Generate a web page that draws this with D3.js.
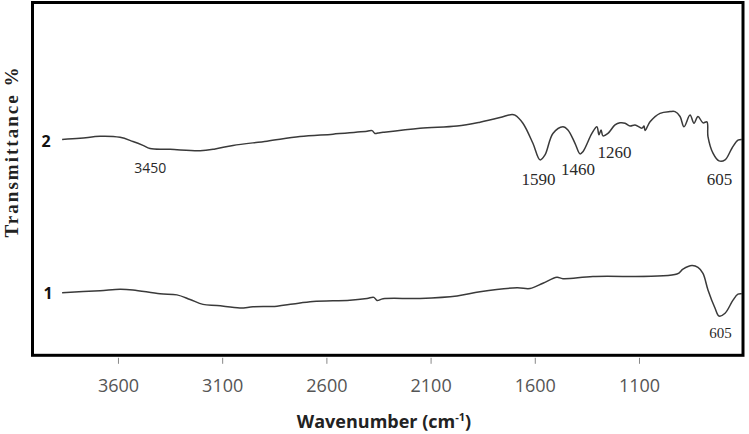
<!DOCTYPE html>
<html>
<head>
<meta charset="utf-8">
<script src="https://cdn.jsdelivr.net/npm/d3@7"></script>
<style>
  html, body { margin: 0; padding: 0; background: #fff; }
  svg { display: block; }
</style>
</head>
<body>
<svg id="chart" width="749" height="434"></svg>
<script>
// ---- data (wavenumber in cm-1, transmittance in arbitrary % units) ----
const xTicks = [3600, 3100, 2600, 2100, 1600, 1100];

const wave2 = [3868, 3782, 3686, 3590, 3528, 3480, 3446, 3350, 3206, 3134, 3048, 2885, 2727, 2568, 2405, 2381, 2367, 2352, 2328, 2151, 1973, 1863, 1767, 1709, 1695, 1657, 1609, 1575, 1551, 1513, 1465, 1441, 1407, 1383, 1369, 1326, 1302, 1292, 1282, 1273, 1249, 1215, 1191, 1167, 1143, 1119, 1086, 1076, 1071, 1047, 999, 951, 927, 903, 884, 855, 836, 817, 793, 774, 769, 745, 716, 687, 654, 625, 606];
const trans2 = [61.3, 61.6, 62.2, 61.9, 60.7, 59.6, 58.7, 58.5, 58.1, 58.6, 59.6, 60.8, 62.1, 62.8, 63.6, 63.8, 63.0, 63.1, 63.3, 64.5, 65.1, 66.2, 67.5, 68.4, 68.2, 65.9, 60.2, 55.5, 56.9, 63.0, 64.9, 64.0, 60.2, 57.2, 57.8, 63.0, 64.9, 62.6, 64.0, 62.3, 63.0, 65.4, 66.0, 65.9, 65.1, 65.4, 64.5, 65.1, 63.8, 66.3, 68.7, 69.2, 69.2, 67.8, 64.9, 68.2, 65.9, 67.8, 66.0, 66.3, 62.1, 57.4, 55.2, 55.5, 58.8, 61.1, 61.3];

const wave1 = [3868, 3686, 3590, 3528, 3398, 3317, 3254, 3192, 3125, 3015, 2952, 2837, 2760, 2664, 2487, 2405, 2372, 2357, 2328, 2151, 1973, 1863, 1685, 1623, 1561, 1494, 1465, 1321, 918, 889, 846, 817, 793, 769, 735, 716, 687, 649, 625, 606];
const trans1 = [17.8, 18.4, 18.8, 18.6, 17.5, 17.2, 15.9, 14.5, 14.2, 13.5, 13.8, 14.0, 14.6, 15.3, 15.7, 16.2, 16.5, 15.6, 16.1, 16.2, 16.9, 18.1, 19.2, 19.0, 20.5, 22.2, 21.8, 22.4, 23.1, 24.5, 25.5, 25.0, 23.3, 18.6, 13.4, 11.2, 12.0, 15.7, 17.4, 17.5];

const seriesLabels = ["2", "1"];
const peaks2 = [
  { w: 3450, label: "3450" },
  { w: 1590, label: "1590" },
  { w: 1460, label: "1460" },
  { w: 1260, label: "1260" },
  { w: 605, label: "605" }
];
const peaks1 = [{ w: 605, label: "605" }];

// ---- layout ----
const svg = d3.select("#chart");
const frame = { left: 32.5, right: 743, top: 2.5, bottom: 355.3 };

const x = d3.scaleLinear().domain([4000, 600]).range([34.6, 743.2]);
const y = d3.scaleLinear().domain([0, 100]).range([355.5, 3]);

// frame
svg.append("rect")
  .attr("x", frame.left).attr("y", frame.top)
  .attr("width", frame.right - frame.left)
  .attr("height", frame.bottom - frame.top)
  .attr("fill", "none").attr("stroke", "#000").attr("stroke-width", 3);

// x axis ticks
const ax = svg.append("g").attr("transform", `translate(0,${frame.bottom + 2.5})`)
  .call(d3.axisBottom(x).tickValues(xTicks).tickSize(6).tickPadding(15).tickFormat(d3.format("d")));
ax.select(".domain").remove();
ax.selectAll(".tick line").attr("stroke", "#888").attr("stroke-width", 1);
ax.selectAll(".tick text")
  .attr("font-family", "'Open Sans', sans-serif")
  .attr("font-size", 18)
  .attr("fill", "#555");

// x title
const xt = svg.append("text")
  .attr("x", 384).attr("y", 428)
  .attr("text-anchor", "middle")
  .attr("font-family", "'Open Sans', sans-serif")
  .attr("font-weight", "bold")
  .attr("font-size", 18)
  .attr("fill", "#222");
xt.append("tspan").text("Wavenumber (cm");
xt.append("tspan").attr("font-size", 11).attr("dy", -7).text("-1");
xt.append("tspan").attr("dy", 7).text(")");

// y title
svg.append("text")
  .attr("transform", "translate(18,152.5) rotate(-90)")
  .attr("text-anchor", "middle")
  .attr("font-family", "'Liberation Serif', serif")
  .attr("font-weight", "bold")
  .attr("font-size", 19)
  .attr("textLength", 170)
  .attr("lengthAdjust", "spacing")
  .attr("fill", "#222")
  .text("Transmittance %");

// curves
const line = d3.line().x(d => x(d[0])).y(d => y(d[1])).curve(d3.curveCatmullRom.alpha(0.5));
const s2 = wave2.map((w, i) => [w, trans2[i]]);
const s1 = wave1.map((w, i) => [w, trans1[i]]);
[s2, s1].forEach(s => {
  svg.append("path").datum(s)
    .attr("d", line)
    .attr("fill", "none")
    .attr("stroke", "#3a3a3a")
    .attr("stroke-width", 1.5)
    .attr("stroke-linejoin", "round");
});

// series labels
svg.append("text").attr("x", 46).attr("y", 147).attr("text-anchor", "middle")
  .attr("font-family", "'Open Sans', sans-serif").attr("font-weight", "bold")
  .attr("font-size", 16).attr("fill", "#111").text(seriesLabels[0]);
svg.append("text").attr("x", 48).attr("y", 299).attr("text-anchor", "middle")
  .attr("font-family", "'Open Sans', sans-serif").attr("font-weight", "bold")
  .attr("font-size", 16).attr("fill", "#111").text(seriesLabels[1]);

// peak labels
const off2 = { "3450": [1, 173], "1590": [538.5, 185], "1460": [578, 175], "1260": [614.5, 158], "605": [719.5, 185] };
peaks2.forEach(p => {
  const isSans = p.label === "3450";
  svg.append("text")
    .attr("x", isSans ? x(p.w) + 1 : off2[p.label][0])
    .attr("y", off2[p.label][1])
    .attr("text-anchor", "middle")
    .attr("font-family", isSans ? "'Open Sans', sans-serif" : "'Liberation Serif', serif")
    .attr("font-size", isSans ? 14 : 17)
    .attr("fill", "#2a2a2a")
    .text(p.label);
});
peaks1.forEach(p => {
  svg.append("text")
    .attr("x", 720.5).attr("y", 338)
    .attr("text-anchor", "middle")
    .attr("font-family", "'Liberation Serif', serif")
    .attr("font-size", 15)
    .attr("fill", "#2a2a2a")
    .text(p.label);
});
</script>
</body>
</html>
